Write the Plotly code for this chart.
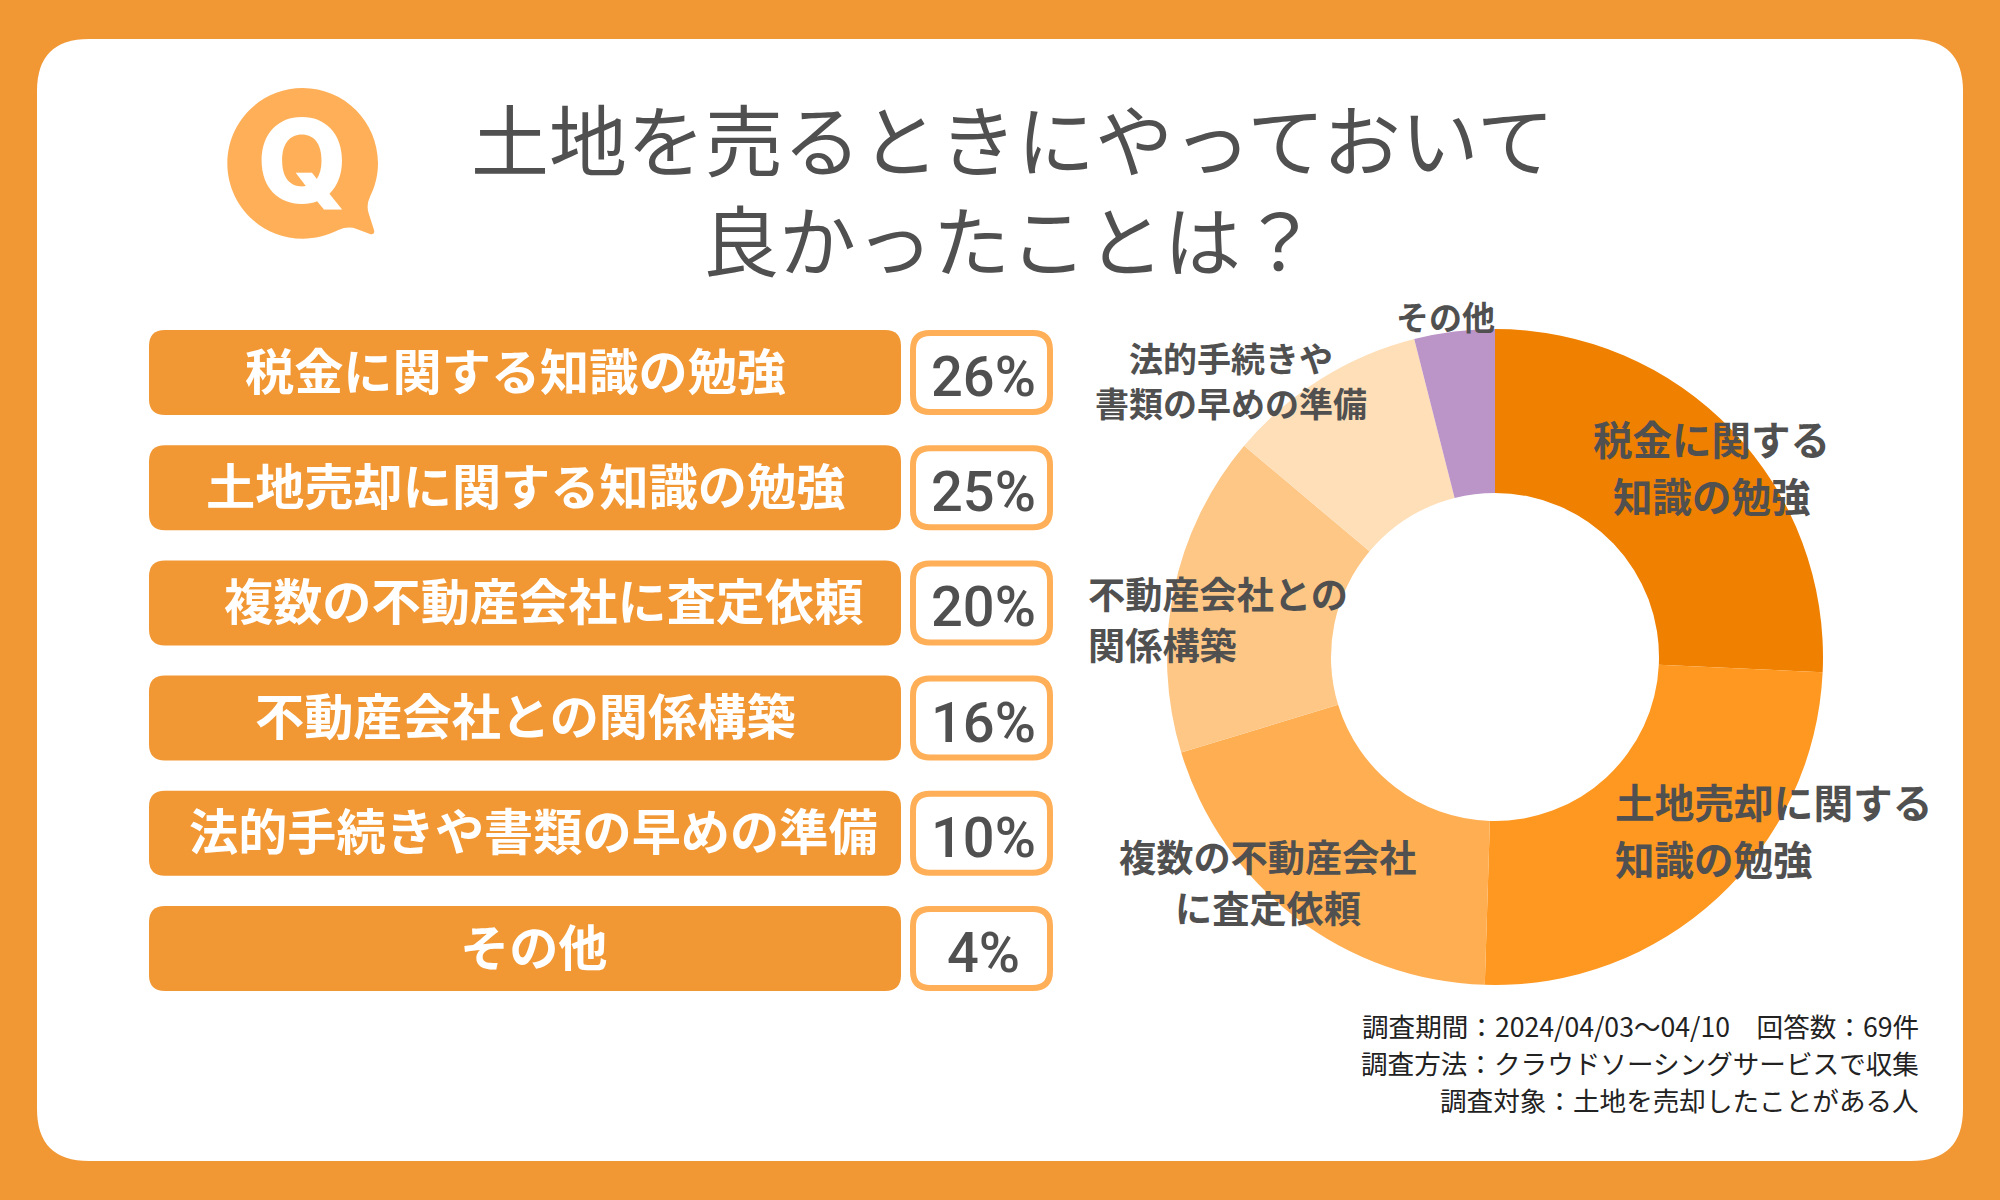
# 土地を売るときにやっておいて良かったこと : ドーナツグラフ + ランキング表
import plotly.graph_objects as go

W, H = 2000, 1200

# データ
categories = ['税金に関する知識の勉強', '土地売却に関する知識の勉強', '複数の不動産会社に査定依頼',
              '不動産会社との関係構築', '法的手続きや書類の早めの準備', 'その他']
values = [26, 25, 20, 16, 10, 4]
title_lines = ['土地を売るときにやっておいて', '良かったことは？']
note_lines = ['調査期間：2024/04/03～04/10　回答数：69件',
              '調査方法：クラウドソーシングサービスで収集',
              '調査対象：土地を売却したことがある人']

# 色
slice_colors = ['#F08000', '#FF9820', '#FFAE52', '#FFC785', '#FFDFB8', '#BB94C8']
ORANGE = '#F19733'
LIGHT = '#FFAF57'
DARK = '#505050'
FONT = 'Noto Sans CJK JP'

# ドーナツの外側ラベル (1行ずつ: 文字, x中心, y中心, サイズ)
slice_labels = [
    ('税金に関する', 1711, 441, 39.5), ('知識の勉強', 1712, 498, 39.5),
    ('土地売却に関する', 1774, 804, 39.7), ('知識の勉強', 1714, 861, 39.5),
    ('複数の不動産会社', 1268, 859, 37.2), ('に査定依頼', 1268, 910, 37.2),
    ('不動産会社との', 1218, 596, 37.2), ('関係構築', 1162, 647, 37.2),
    ('法的手続きや', 1231, 361, 34), ('書類の早めの準備', 1231, 406, 34),
    ('その他', 1445, 319, 33),
]
label_cx = [515, 525, 543, 525, 533, 534]


def fx(x):
    return x / W


def fy(y):
    return 1 - y / H


def pt(x, y):
    return f'{fx(x):.5f},{fy(y):.5f}'


def round_rect(x0, y0, x1, y1, r):
    return (f'M {pt(x0 + r, y0)} L {pt(x1 - r, y0)} Q {pt(x1, y0)} {pt(x1, y0 + r)} '
            f'L {pt(x1, y1 - r)} Q {pt(x1, y1)} {pt(x1 - r, y1)} '
            f'L {pt(x0 + r, y1)} Q {pt(x0, y1)} {pt(x0, y1 - r)} '
            f'L {pt(x0, y0 + r)} Q {pt(x0, y0)} {pt(x0 + r, y0)} Z')


def z(x, y):
    # 吹き出しの座標 (拡大図から読んだ値)
    return pt(180 + x / 3, 60 + y / 3)


bubble = (f'M {z(368, 84)} C {z(493, 84)} {z(594, 185)} {z(594, 310)} '
          f'C {z(594, 350)} {z(583, 385)} {z(570, 410)} Q {z(558, 435)} {z(566, 460)} '
          f'L {z(582, 510)} Q {z(586, 526)} {z(570, 522)} L {z(530, 507)} '
          f'Q {z(505, 497)} {z(475, 510)} C {z(440, 527)} {z(405, 536)} {z(368, 536)} '
          f'C {z(243, 536)} {z(142, 435)} {z(142, 310)} C {z(142, 185)} {z(243, 84)} {z(368, 84)} Z')

shapes = [
    dict(type='path', path=round_rect(37, 39, 1963, 1161, 52), xref='paper', yref='paper',
         fillcolor='white', line_width=0, layer='below'),
    dict(type='path', path=bubble, xref='paper', yref='paper', fillcolor=LIGHT, line_width=0, layer='below'),
]
annotations = []


def add_text(text, x, y, size, color=DARK, weight=400, xanchor='center', family=FONT):
    annotations.append(dict(text=text, x=fx(x), y=fy(y), xref='paper', yref='paper',
                            xanchor=xanchor, yanchor='middle', showarrow=False,
                            font=dict(family=family, size=size, color=color, weight=weight)))


# タイトル
add_text(title_lines[0], 1012, 136.5, 78)
add_text(title_lines[1], 1010, 237.5, 77)
add_text('Q', 302, 161, 116, color='white', weight=800, family='Inter')

# ランキング表
for i, (cat, val) in enumerate(zip(categories, values)):
    top = 330 + i * 115.2
    shapes.append(dict(type='path', path=round_rect(149, top, 901, top + 85, 16), xref='paper', yref='paper',
                       fillcolor=ORANGE, line_width=0, layer='below'))
    shapes.append(dict(type='path', path=round_rect(913, top + 3, 1050, top + 82, 17), xref='paper', yref='paper',
                       fillcolor='white', line=dict(color=LIGHT, width=6), layer='below'))
    add_text(cat, label_cx[i], top + 38, 49.2, color='white', weight=700)
    add_text(f'{val}%', 983, top + 47, 56, weight=500, family='Roboto')

# 注記
for i, line in enumerate(note_lines):
    add_text(line, 1921, 1025 + i * 37, 26.6, color='#222222', xanchor='right')

# ドーナツのラベル
for text, x, y, size in slice_labels:
    add_text(text, x, y - 3.5, size, weight=700)

fig = go.Figure(go.Pie(
    labels=categories,
    values=values,
    hole=0.5,
    sort=False,
    direction='clockwise',
    rotation=0,
    textinfo='none',
    marker=dict(colors=slice_colors, line=dict(width=0)),
    domain=dict(x=[fx(1167), fx(1823)], y=[fy(985), fy(329)]),
))
fig.update_layout(
    width=W, height=H,
    margin=dict(l=0, r=0, t=0, b=0),
    paper_bgcolor=ORANGE,
    showlegend=False,
    shapes=shapes,
    annotations=annotations,
    font=dict(family=FONT),
)

# 余白を消す
fig.write_html('out.html', config={'displayModeBar': False},
               post_script="document.body.style.margin='0';document.body.style.overflow='hidden';")
